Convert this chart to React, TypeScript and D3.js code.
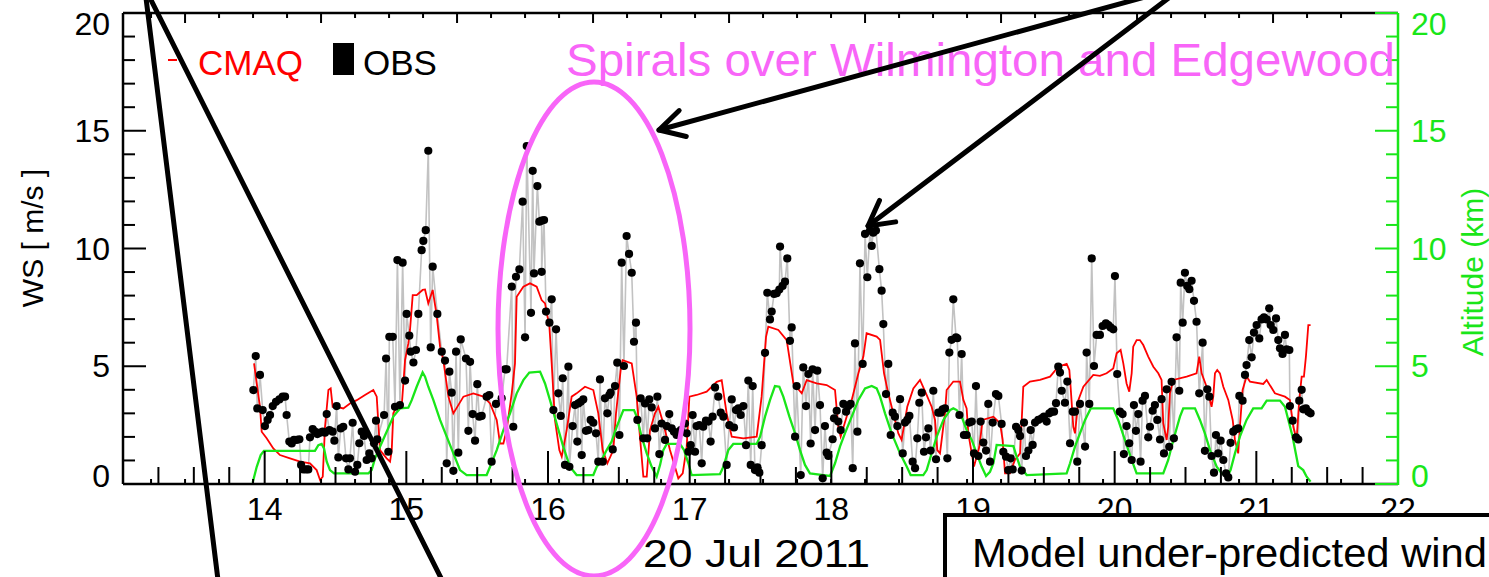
import React from 'react';
import * as d3 from 'd3';

// observed wind speed (day of July 2011, m/s)
const obs: [number, number][] = [
  [13.920, 3.99], [13.937, 5.43], [13.948, 3.21], [13.967, 4.63], [13.986, 3.14], [14.002, 2.46], [14.021, 2.72], [14.038, 2.93],
  [14.057, 3.31], [14.080, 3.49], [14.104, 3.59], [14.127, 3.71], [14.144, 3.71], [14.155, 2.93], [14.174, 1.80], [14.191, 1.72],
  [14.207, 1.87], [14.226, 1.87], [14.245, 1.90], [14.257, 0.81], [14.273, 0.62], [14.292, 0.62], [14.308, 0.62], [14.320, 1.98],
  [14.339, 2.33], [14.355, 2.22], [14.372, 2.12], [14.391, 2.18], [14.410, 2.22], [14.426, 2.18], [14.438, 2.97], [14.457, 2.29],
  [14.480, 2.22], [14.492, 1.84], [14.508, 3.31], [14.520, 1.13], [14.537, 2.36], [14.555, 2.43], [14.574, 1.09], [14.591, 0.62],
  [14.602, 1.09], [14.621, 2.60], [14.638, 0.52], [14.654, 0.81], [14.668, 1.73], [14.685, 2.22], [14.701, 2.04], [14.720, 1.02],
  [14.739, 1.30], [14.755, 1.09], [14.772, 1.73], [14.786, 2.69], [14.795, 1.90], [14.843, 2.93], [14.857, 5.33], [14.873, 1.37],
  [14.880, 6.25], [14.904, 6.25], [14.920, 3.28], [14.937, 9.51], [14.955, 3.35], [14.974, 9.40], [14.991, 4.39], [15.002, 7.22],
  [15.021, 6.30], [15.031, 5.62], [15.050, 5.16], [15.068, 5.69], [15.085, 7.22], [15.108, 9.93], [15.120, 10.32], [15.137, 10.78],
  [15.155, 14.15], [15.172, 5.80], [15.186, 9.23], [15.219, 7.22], [15.250, 5.62], [15.273, 5.24], [15.285, 0.88], [15.304, 4.77],
  [15.320, 3.88], [15.332, 0.56], [15.351, 5.62], [15.367, 1.33], [15.384, 6.14], [15.421, 5.33], [15.438, 2.26], [15.450, 5.19],
  [15.468, 2.97], [15.485, 1.84], [15.501, 4.24], [15.515, 2.86], [15.532, 2.89], [15.567, 3.71], [15.586, 3.78], [15.602, 0.95],
  [15.633, 3.40], [15.673, 3.64], [15.697, 4.87], [15.708, 4.87], [15.744, 8.38], [15.755, 2.43], [15.774, 8.80], [15.798, 9.11],
  [15.821, 11.99], [15.838, 6.23], [15.850, 14.35],
  [15.880, 7.27], [15.892, 13.30], [15.901, 8.94], [15.925, 12.65], [15.939, 11.14], [15.955, 11.18], [15.955, 9.01], [15.972, 11.21],
  [15.986, 7.32], [16.010, 6.85], [16.026, 7.84], [16.038, 3.14], [16.057, 6.57], [16.073, 3.85], [16.090, 2.89], [16.104, 4.49],
  [16.120, 0.81], [16.144, 4.98], [16.151, 0.73], [16.174, 2.46], [16.191, 3.35], [16.207, 1.80], [16.214, 3.42], [16.231, 3.49],
  [16.238, 1.23], [16.249, 3.59], [16.268, 2.26], [16.285, 2.29], [16.301, 2.72], [16.320, 2.60], [16.339, 2.15], [16.355, 0.95],
  [16.367, 4.44], [16.386, 0.95], [16.402, 3.64], [16.419, 3.00], [16.433, 3.78], [16.442, 3.88], [16.457, 1.47], [16.473, 4.16],
  [16.489, 5.15], [16.504, 2.08], [16.520, 9.40], [16.536, 5.01], [16.555, 10.53], [16.572, 9.77], [16.591, 8.97], [16.607, 6.04],
  [16.621, 6.85], [16.631, 2.72], [16.654, 3.64], [16.673, 1.94], [16.685, 3.42], [16.701, 1.94], [16.715, 3.59], [16.732, 3.25],
  [16.755, 2.36], [16.772, 3.71], [16.786, 1.27], [16.802, 2.57], [16.826, 1.87], [16.838, 2.46], [16.856, 2.97], [16.873, 2.36],
  [16.889, 2.22], [16.908, 2.08], [16.937, 2.29], [16.967, 2.57], [16.979, 2.15], [16.991, 1.37], [17.007, 1.65], [17.021, 2.93],
  [17.038, 1.37], [17.049, 2.46], [17.068, 2.50], [17.085, 0.88], [17.096, 2.43], [17.115, 2.69], [17.132, 2.65], [17.148, 1.80],
  [17.162, 2.86], [17.179, 4.10], [17.202, 3.71], [17.219, 3.03], [17.238, 2.86], [17.261, 0.81], [17.280, 2.50], [17.297, 3.59],
  [17.313, 2.40], [17.327, 3.14], [17.344, 3.21], [17.360, 2.93], [17.379, 3.31], [17.398, 1.65], [17.414, 4.39], [17.431, 0.81],
  [17.445, 4.16], [17.461, 0.59], [17.478, 0.71], [17.492, 0.48], [17.508, 1.65], [17.532, 5.57], [17.548, 8.12], [17.567, 6.99],
  [17.579, 7.32], [17.596, 8.07], [17.614, 8.10], [17.633, 8.26], [17.638, 10.08], [17.656, 8.41], [17.673, 8.59], [17.689, 9.58],
  [17.708, 6.08], [17.720, 6.65], [17.744, 2.01], [17.755, 4.16], [17.784, 0.38], [17.802, 4.95], [17.821, 3.31], [17.838, 4.67],
  [17.854, 1.72], [17.868, 4.87], [17.885, 2.29], [17.901, 4.81], [17.920, 3.35], [17.939, 0.24], [17.955, 2.46], [17.967, 1.33],
  [17.979, 1.19],
  [18.009, 1.90], [18.019, 2.79], [18.038, 3.11], [18.049, 2.65], [18.066, 2.29], [18.085, 3.40], [18.104, 3.07], [18.120, 3.31],
  [18.136, 3.40], [18.151, 0.67], [18.167, 5.97], [18.184, 2.22], [18.202, 9.37], [18.221, 5.10], [18.238, 10.62], [18.254, 8.78],
  [18.273, 10.76], [18.285, 10.11], [18.296, 10.67], [18.315, 10.76], [18.339, 9.12], [18.355, 8.21], [18.367, 6.79], [18.386, 3.82],
  [18.402, 5.10], [18.419, 2.08], [18.433, 3.03], [18.449, 2.86], [18.466, 2.46], [18.485, 3.60], [18.504, 1.30], [18.520, 2.61],
  [18.536, 2.72], [18.551, 2.89], [18.574, 0.95], [18.591, 0.67], [18.607, 1.94], [18.621, 3.45], [18.638, 3.88], [18.654, 1.37],
  [18.668, 1.98], [18.685, 2.36], [18.701, 1.42], [18.720, 3.96], [18.739, 1.05], [18.755, 3.03], [18.772, 3.03], [18.786, 3.17],
  [18.802, 3.21], [18.819, 1.09], [18.833, 5.58], [18.849, 6.12], [18.861, 7.84], [18.880, 6.23], [18.889, 6.19], [18.904, 2.93],
  [18.920, 5.52], [18.936, 2.08], [18.955, 2.08], [18.974, 2.61], [18.991, 2.65], [19.007, 1.30], [19.021, 4.16], [19.038, 1.19],
  [19.054, 2.65], [19.073, 1.76], [19.092, 1.42], [19.108, 3.40], [19.120, 0.95], [19.139, 2.61], [19.162, 3.82], [19.179, 3.74],
  [19.202, 2.55], [19.214, 1.37], [19.233, 1.16], [19.249, 0.59], [19.266, 1.09], [19.280, 0.62], [19.304, 2.43], [19.320, 2.29],
  [19.332, 2.04], [19.344, 0.57], [19.360, 2.61], [19.374, 1.19], [19.391, 1.42], [19.407, 2.29], [19.421, 1.66], [19.438, 2.61],
  [19.461, 2.72], [19.485, 2.79], [19.501, 2.86], [19.520, 2.65], [19.539, 3.00], [19.555, 3.07], [19.572, 3.07], [19.586, 3.43],
  [19.602, 4.98], [19.614, 4.73], [19.626, 3.96], [19.649, 3.45], [19.666, 4.35], [19.685, 1.73], [19.704, 3.07], [19.720, 3.07],
  [19.736, 0.95], [19.755, 3.40], [19.791, 1.59], [19.802, 5.58], [19.821, 3.40], [19.838, 9.58], [19.854, 5.01], [19.873, 6.33],
  [19.896, 6.33], [19.915, 6.71], [19.938, 6.82], [19.955, 6.75], [19.971, 6.65], [19.990, 6.57], [20.002, 8.83], [20.018, 4.67],
  [20.037, 3.07], [20.056, 2.97], [20.065, 1.27], [20.084, 2.46], [20.103, 1.73], [20.120, 1.02], [20.136, 3.35], [20.150, 2.26],
  [20.167, 2.97], [20.183, 0.95], [20.197, 3.54], [20.214, 3.74], [20.237, 1.98], [20.249, 2.43], [20.268, 3.11], [20.284, 3.35],
  [20.301, 2.72], [20.320, 1.89], [20.331, 3.60], [20.348, 1.30], [20.367, 4.02], [20.385, 1.58], [20.402, 4.34], [20.418, 1.94],
  [20.437, 6.23], [20.456, 3.96], [20.466, 8.55], [20.480, 6.85], [20.496, 8.97], [20.512, 8.41], [20.527, 8.27], [20.543, 8.63],
  [20.560, 7.78], [20.578, 6.89], [20.597, 3.85], [20.621, 6.00], [20.637, 1.41], [20.654, 4.02], [20.668, 3.71], [20.684, 1.19],
  [20.701, 0.48], [20.715, 2.08], [20.731, 1.30], [20.748, 1.84], [20.767, 1.02], [20.786, 0.45], [20.802, 0.28], [20.818, 1.75],
  [20.837, 2.22], [20.856, 2.32], [20.872, 2.36], [20.880, 3.74], [20.903, 3.54], [20.920, 4.63], [20.931, 5.05], [20.950, 6.11],
  [20.967, 5.38], [20.983, 6.43], [21.002, 6.75], [21.021, 6.18], [21.037, 6.99], [21.054, 7.08], [21.073, 6.99], [21.091, 7.46],
  [21.101, 6.75], [21.120, 6.54], [21.139, 7.03], [21.155, 6.11], [21.167, 5.76], [21.185, 5.52], [21.202, 6.33], [21.214, 5.72],
  [21.233, 5.69], [21.237, 3.31], [21.256, 2.69], [21.280, 1.98], [21.296, 1.89], [21.303, 3.54], [21.320, 4.00], [21.331, 3.17],
  [21.350, 3.21], [21.367, 3.07], [21.383, 3.00],
];

// CMAQ modelled wind speed (m/s)
const cmaq: [number, number][] = [
  [13.925, 5.12], [13.944, 4.27], [13.967, 3.28], [13.979, 2.22], [14.014, 1.94], [14.061, 1.51], [14.108, 1.23], [14.179, 1.09],
  [14.250, 0.95], [14.320, 0.88], [14.367, 0.59], [14.391, 0.17], [14.410, 0.31], [14.426, 2.43], [14.450, 3.99], [14.466, 4.06],
  [14.480, 3.28], [14.508, 3.28], [14.555, 3.21], [14.602, 3.42], [14.650, 3.56], [14.708, 3.78], [14.767, 3.99], [14.791, 3.71],
  [14.814, 1.44], [14.861, 1.09], [14.885, 0.95], [14.897, 1.44], [14.908, 3.00], [14.932, 3.28], [14.967, 3.28], [14.991, 5.26],
  [15.014, 5.97], [15.026, 6.54], [15.045, 8.02], [15.073, 8.02], [15.115, 8.24], [15.132, 8.26], [15.155, 7.67], [15.186, 8.24],
  [15.214, 7.17], [15.238, 5.83], [15.261, 5.26], [15.297, 3.71], [15.332, 3.00], [15.403, 3.71], [15.473, 3.85], [15.544, 3.71],
  [15.591, 3.42], [15.638, 2.72], [15.661, 1.72], [15.685, 1.72], [15.708, 2.29], [15.744, 3.85], [15.767, 5.12], [15.779, 7.95],
  [15.826, 8.38], [15.873, 8.52], [15.920, 8.38], [15.955, 7.81], [15.979, 7.67], [16.010, 6.68], [16.026, 5.12], [16.049, 2.72],
  [16.080, 1.44], [16.097, 1.16], [16.132, 2.29], [16.167, 3.71], [16.202, 3.85], [16.261, 4.13], [16.320, 3.99], [16.355, 3.00],
  [16.386, 1.44], [16.419, 0.88], [16.461, 1.44], [16.480, 3.00], [16.513, 4.84], [16.527, 5.26], [16.591, 5.12], [16.626, 3.71],
  [16.649, 2.01], [16.673, 0.31], [16.697, 0.31], [16.720, 2.29], [16.755, 3.00], [16.779, 3.28], [16.814, 2.57], [16.861, 1.44],
  [16.920, 0.24], [16.951, 0.45], [16.979, 1.58], [16.998, 3.71], [17.049, 3.78], [17.120, 3.92], [17.191, 4.34], [17.226, 4.41],
  [17.261, 3.00], [17.297, 2.01], [17.379, 1.94], [17.473, 2.01], [17.508, 3.71], [17.539, 6.25], [17.555, 6.68], [17.626, 6.54],
  [17.685, 6.11], [17.732, 4.27], [17.791, 3.85], [17.826, 4.41], [17.896, 4.27], [17.967, 4.20], [18.026, 3.99], [18.049, 2.43],
  [18.066, 2.01], [18.108, 2.86], [18.144, 3.57], [18.191, 4.70], [18.226, 5.41], [18.249, 6.40], [18.320, 6.26], [18.344, 6.12],
  [18.372, 4.70], [18.402, 3.85], [18.449, 2.72], [18.473, 2.15], [18.496, 1.87], [18.536, 3.28], [18.579, 4.06], [18.626, 4.42],
  [18.668, 3.85], [18.708, 3.28], [18.732, 2.72], [18.748, 1.44], [18.767, 1.30], [18.802, 3.00], [18.814, 3.99], [18.861, 4.35],
  [18.908, 4.35], [18.932, 3.57], [18.955, 3.21], [18.967, 2.15], [19.007, 0.74], [19.045, 1.59], [19.068, 2.72], [19.144, 2.86],
  [19.191, 2.58], [19.209, 1.87], [19.226, 0.45], [19.261, 0.45], [19.296, 1.02], [19.332, 1.30], [19.344, 2.72], [19.355, 4.13],
  [19.402, 4.35], [19.473, 4.42], [19.544, 4.56], [19.602, 4.98], [19.661, 5.10], [19.680, 4.84], [19.689, 4.13], [19.708, 2.43],
  [19.720, 2.15], [19.744, 3.57], [19.779, 4.13], [19.849, 4.63], [19.896, 4.59], [19.943, 4.70], [19.990, 4.91], [20.014, 5.55],
  [20.042, 5.69], [20.061, 5.12], [20.084, 4.27], [20.103, 3.92], [20.120, 4.70], [20.131, 5.83], [20.155, 6.11], [20.178, 6.11],
  [20.202, 5.90], [20.237, 5.41], [20.273, 4.98], [20.308, 4.70], [20.331, 4.42], [20.343, 2.58], [20.367, 1.87], [20.378, 2.43],
  [20.390, 3.85], [20.414, 4.42], [20.508, 4.56], [20.578, 4.70], [20.597, 5.41], [20.614, 4.70], [20.649, 4.13], [20.684, 3.28],
  [20.696, 3.71], [20.708, 4.70], [20.724, 4.84], [20.743, 4.70], [20.767, 4.13], [20.802, 3.57], [20.833, 2.72], [20.849, 1.87],
  [20.872, 1.30], [20.884, 2.43], [20.903, 3.99], [20.931, 4.56], [20.955, 4.35], [21.049, 4.25], [21.073, 4.42], [21.131, 3.85],
  [21.202, 3.71], [21.237, 3.57], [21.261, 2.43], [21.284, 1.87], [21.303, 3.57], [21.320, 4.56], [21.336, 4.56], [21.350, 5.41],
  [21.367, 6.75], [21.383, 6.75],
];

// aircraft altitude (km)
const altitude: [number, number][] = [
  [13.915, 0.05], [13.944, 0.73], [13.972, 1.23], [13.995, 1.41], [14.355, 1.41], [14.379, 1.65], [14.402, 1.70], [14.419, 1.51],
  [14.438, 0.95], [14.461, 0.59], [14.490, 0.45], [14.732, 0.45], [14.755, 0.59], [14.779, 1.09], [14.814, 1.58], [14.861, 2.22],
  [14.908, 2.86], [14.955, 3.21], [15.014, 3.24], [15.038, 3.56], [15.073, 4.13], [15.115, 4.74], [15.132, 4.56], [15.155, 4.13],
  [15.191, 3.56], [15.238, 2.72], [15.285, 2.01], [15.332, 1.30], [15.379, 0.59], [15.426, 0.38], [15.567, 0.38], [15.591, 0.73],
  [15.638, 1.44], [15.685, 2.29], [15.732, 3.00], [15.779, 3.85], [15.826, 4.41], [15.868, 4.73], [15.944, 4.77], [15.979, 4.27],
  [16.014, 3.56], [16.061, 2.57], [16.108, 1.58], [16.155, 0.73], [16.202, 0.38], [16.320, 0.38], [16.344, 0.73], [16.379, 1.02],
  [16.414, 1.44], [16.449, 1.80], [16.485, 2.43], [16.532, 3.14], [16.607, 3.14], [16.626, 2.86], [16.661, 2.01], [16.697, 1.30],
  [16.732, 0.73], [16.767, 0.31], [16.791, 0.81], [16.814, 1.44], [16.838, 1.70], [16.932, 1.70], [16.960, 1.44], [16.991, 0.88],
  [17.014, 0.38], [17.214, 0.42], [17.238, 0.73], [17.273, 1.44], [17.308, 1.70], [17.473, 1.70], [17.497, 2.01], [17.532, 2.86],
  [17.567, 3.56], [17.602, 4.16], [17.633, 4.13], [17.661, 3.71], [17.704, 2.86], [17.744, 2.15], [17.779, 1.44], [17.814, 0.81],
  [17.849, 0.45], [17.944, 0.38], [17.991, 0.34], [18.026, 0.88], [18.061, 1.59], [18.096, 2.15], [18.144, 2.86], [18.191, 3.57],
  [18.238, 4.06], [18.285, 4.16], [18.320, 4.06], [18.344, 3.71], [18.379, 3.00], [18.426, 2.15], [18.485, 1.30], [18.532, 0.74],
  [18.560, 0.38], [18.649, 0.38], [18.673, 0.59], [18.708, 1.30], [18.744, 2.01], [18.791, 2.72], [18.838, 3.14], [18.861, 3.21],
  [18.885, 3.14], [18.920, 2.86], [18.955, 2.29], [18.991, 1.87], [19.026, 1.30], [19.061, 0.74], [19.092, 0.34], [19.120, 0.52],
  [19.144, 0.88], [19.167, 1.66], [19.285, 1.61], [19.308, 1.16], [19.332, 0.74], [19.379, 0.38], [19.661, 0.45], [19.685, 0.88],
  [19.720, 1.59], [19.755, 2.15], [19.791, 2.72], [19.831, 3.21], [19.990, 3.21], [20.025, 2.72], [20.072, 1.87], [20.120, 1.02],
  [20.155, 0.45], [20.343, 0.45], [20.378, 1.02], [20.414, 1.87], [20.461, 2.86], [20.484, 3.21], [20.567, 3.21], [20.602, 2.72],
  [20.637, 2.15], [20.673, 1.44], [20.720, 0.74], [20.755, 0.45], [20.795, 0.31], [20.818, 0.59], [20.849, 1.30], [20.884, 2.01],
  [20.931, 2.72], [20.978, 3.21], [21.037, 3.21], [21.073, 3.54], [21.167, 3.54], [21.202, 3.28], [21.226, 2.72], [21.256, 2.01],
  [21.296, 0.76], [21.331, 0.59], [21.355, 0.31], [21.383, 0.10],
];

const dayLabels = [14, 15, 16, 17, 18, 19, 20, 21, 22];
const yLabels = [0, 5, 10, 15, 20];
// the overplotted altitude frame has its own tick spacing
const altFrameTickStart = 13.198;
const altFrameTickStep = 0.24;

const FONT = '"Liberation Sans", Arial, Helvetica, sans-serif';
const GREEN = '#19e619';
const MAGENTA = '#f865f8';

const W = 1489;
const H = 577;
const left = 123, right = 1398, top = 13, bottom = 484;

const Arrow = ({ x1, y1, x2, y2 }: { x1: number; y1: number; x2: number; y2: number }) => {
  const a = Math.atan2(y1 - y2, x1 - x2);
  const len = 28, spread = 0.5;
  const w1 = [x2 + len * Math.cos(a + spread), y2 + len * Math.sin(a + spread)];
  const w2 = [x2 + len * Math.cos(a - spread), y2 + len * Math.sin(a - spread)];
  return (
    <g stroke="black" strokeWidth={5} fill="none" strokeLinecap="round" strokeLinejoin="round">
      <line x1={x1} y1={y1} x2={x2} y2={y2} />
      <polyline points={`${w1[0]},${w1[1]} ${x2},${y2} ${w2[0]},${w2[1]}`} />
    </g>
  );
};

export default function App() {
  const x = d3.scaleLinear().domain([13, 22]).range([left, right]);
  const y = d3.scaleLinear().domain([0, 20]).range([bottom, top]);

  const line = d3.line<[number, number]>().x(d => x(d[0])).y(d => y(d[1]));
  const obsSorted = d3.sort(obs, d => d[0]);

  const minorDays = d3.range(13.25, 22, 0.25).filter(d => Math.abs(d - Math.round(d)) > 1e-6);
  const altTicks = d3.range(0, 36).map(k => ({ k, d: altFrameTickStart + k * altFrameTickStep })).filter(t => t.d > 13 && t.d < 22);
  const yMinor = d3.range(1, 20).filter(v => v % 5 !== 0);

  return (
    <svg width={W} height={H} style={{ position: 'absolute', left: 0, top: 0, background: 'white' }} fontFamily={FONT}>
      <rect width={W} height={H} fill="white" />

      {/* series */}
      <path d={line(obsSorted) ?? ''} fill="none" stroke="#c2c2c2" strokeWidth={1.6} />
      <path d={line(cmaq) ?? ''} fill="none" stroke="#ff0000" strokeWidth={1.8} />
      <path d={line(altitude) ?? ''} fill="none" stroke={GREEN} strokeWidth={2.3} />
      {obsSorted.map((d, i) => (
        <circle key={i} cx={x(d[0])} cy={y(d[1])} r={4.1} fill="black" />
      ))}

      {/* frame */}
      <g stroke="black" strokeWidth={2.5}>
        <line x1={left} y1={top} x2={right} y2={top} />
        <line x1={left} y1={bottom} x2={right} y2={bottom} />
        <line x1={left} y1={top} x2={left} y2={bottom} />
      </g>
      <line x1={right} y1={top} x2={right} y2={bottom + 1} stroke={GREEN} strokeWidth={2.5} />

      {/* bottom ticks */}
      <g stroke="black" strokeWidth={2}>
        {dayLabels.filter(d => d < 22).map(d => (
          <line key={'M' + d} x1={x(d)} x2={x(d)} y1={bottom} y2={bottom - 33} />
        ))}
        {minorDays.map(d => (
          <line key={'m' + d} x1={x(d)} x2={x(d)} y1={bottom} y2={bottom - 17} />
        ))}
        {altTicks.map(t => (
          <line key={'a' + t.k} x1={x(t.d)} x2={x(t.d)} y1={bottom} y2={bottom - 5} />
        ))}
        {altTicks.map(t => (
          <line key={'t' + t.k} x1={x(t.d)} x2={x(t.d)} y1={top} y2={top + (t.k % 4 === 1 ? 10 : 5)} />
        ))}
      </g>

      {/* left axis */}
      <g stroke="black" strokeWidth={2}>
        {yLabels.map(v => <line key={v} x1={left} x2={left + 23} y1={y(v)} y2={y(v)} />)}
        {yMinor.map(v => <line key={'m' + v} x1={left} x2={left + 12} y1={y(v)} y2={y(v)} />)}
      </g>
      <g fontSize={32} textAnchor="end" fill="black">
        {yLabels.map(v => (
          <text key={v} x={110} y={Math.min(Math.max(y(v), 24), 476)} dominantBaseline="central">{v}</text>
        ))}
      </g>
      <text transform="translate(32,238) rotate(-90)" fontSize={30} textAnchor="middle" dominantBaseline="central">WS [ m/s ]</text>

      {/* right axis */}
      <g stroke={GREEN} strokeWidth={2}>
        {yLabels.map(v => <line key={v} x1={right} x2={right - 23} y1={y(v)} y2={y(v)} />)}
        {yMinor.map(v => <line key={'m' + v} x1={right} x2={right - 12} y1={y(v)} y2={y(v)} />)}
      </g>
      <g fontSize={32} fill={GREEN}>
        {yLabels.map(v => (
          <text key={v} x={1411} y={Math.min(Math.max(y(v), 24), 476)} dominantBaseline="central">{v}</text>
        ))}
      </g>
      <text transform="translate(1472,272) rotate(-90)" fontSize={30} textAnchor="middle" dominantBaseline="central" fill={GREEN}>Altitude (km)</text>

      {/* day labels */}
      <g fontSize={32} textAnchor="middle">
        {dayLabels.map(d => (
          <text key={d} x={x(d)} y={520}>{d}</text>
        ))}
      </g>
      <text x={643} y={567} fontSize={39} textLength={227} lengthAdjust="spacingAndGlyphs">20 Jul 2011</text>

      {/* legend */}
      <line x1={168} x2={177} y1={60} y2={60} stroke="#ff0000" strokeWidth={2} />
      <text x={198} y={75} fontSize={35} fill="#ff0000">CMAQ</text>
      <rect x={333} y={43} width={21} height={32} fill="black" />
      <text x={363} y={75} fontSize={35} fill="black">OBS</text>

      {/* annotations */}
      <text x={566} y={76} fontSize={46} fill={MAGENTA} textLength={829} lengthAdjust="spacingAndGlyphs">Spirals over Wilmington and Edgewood</text>
      <ellipse cx={594} cy={329} rx={96} ry={247} fill="none" stroke={MAGENTA} strokeWidth={5} />
      <g stroke="black" strokeWidth={5} strokeLinecap="round">
        <line x1={146} y1={-2} x2={218} y2={580} />
        <line x1={150} y1={-2} x2={442} y2={580} />
      </g>
      <Arrow x1={1145} y1={-3} x2={659} y2={130} />
      <Arrow x1={1170} y1={-3} x2={868} y2={226} />

      <rect x={945} y={515} width={600} height={100} fill="white" stroke="black" strokeWidth={4} />
      <text x={972} y={567} fontSize={41} textLength={515} lengthAdjust="spacingAndGlyphs">Model under-predicted wind</text>
    </svg>
  );
}
